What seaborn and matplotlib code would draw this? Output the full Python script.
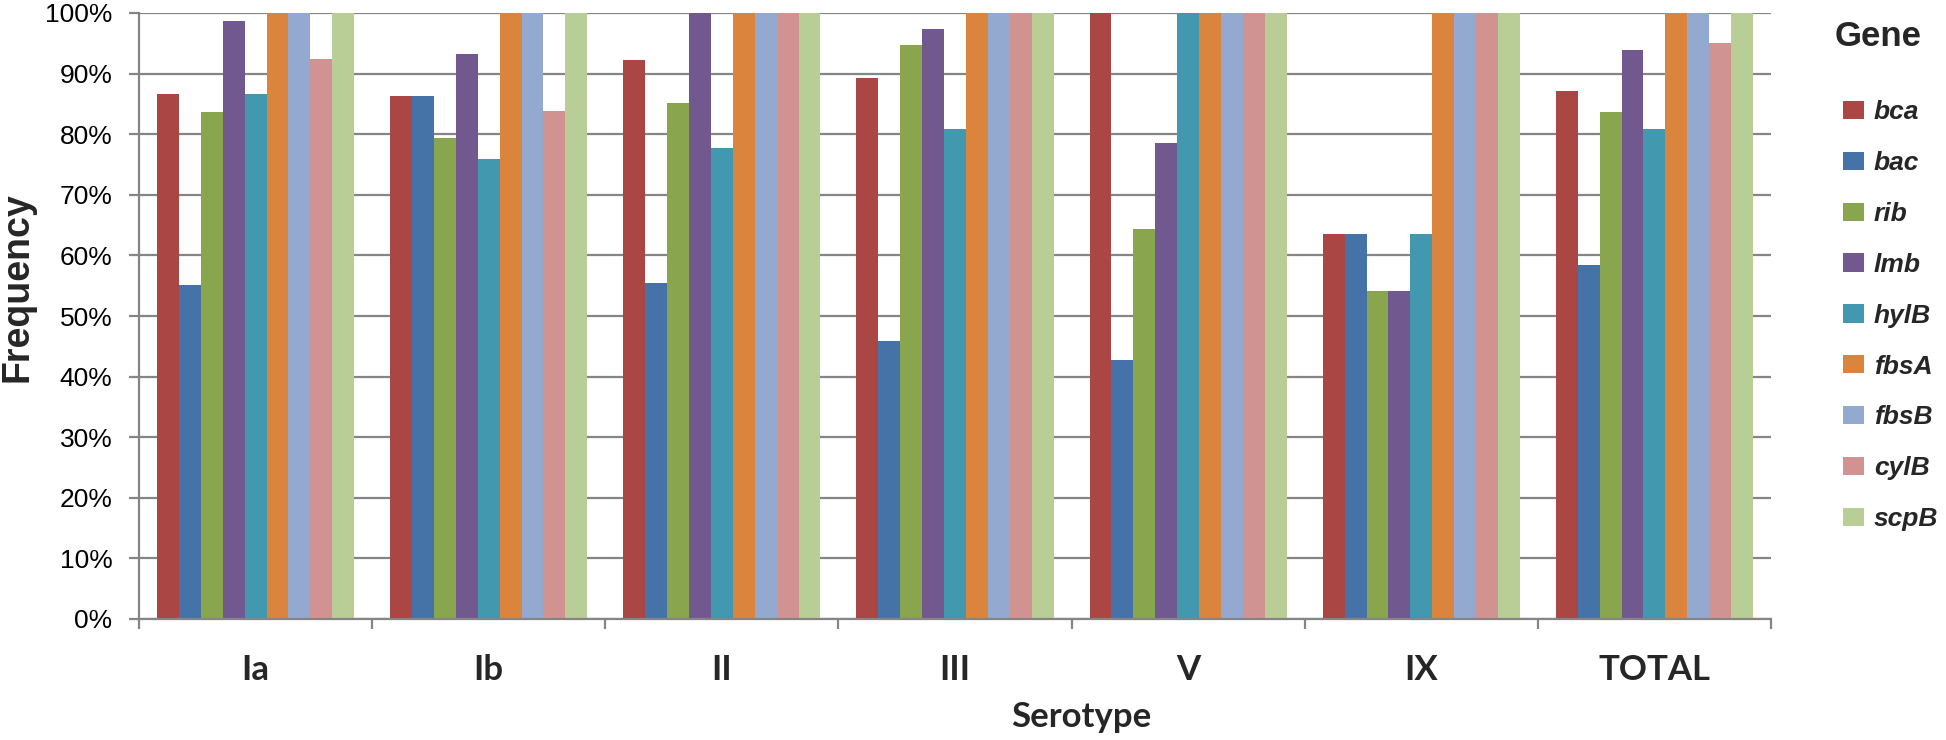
import matplotlib
matplotlib.use("Agg")
import matplotlib.pyplot as plt
import seaborn as sns
import pandas as pd
from matplotlib.ticker import PercentFormatter, FixedLocator
from matplotlib.font_manager import FontProperties

serotypes = ["Ia", "Ib", "II", "III", "V", "IX", "TOTAL"]
genes = ["bca", "bac", "rib", "lmb", "hylB", "fbsA", "fbsB", "cylB", "scpB"]

bca  = [86.6, 86.3, 92.3, 89.3, 100.0, 63.5, 87.2]
bac  = [55.1, 86.3, 55.4, 45.8, 42.7, 63.5, 58.4]
rib  = [83.6, 79.3, 85.1, 94.7, 64.3, 54.2, 83.6]
lmb  = [98.6, 93.2, 100.0, 97.4, 78.5, 54.2, 93.9]
hylB = [86.6, 75.9, 77.8, 80.9, 100.0, 63.5, 80.9]
fbsA = [100.0, 100.0, 100.0, 100.0, 100.0, 100.0, 100.0]
fbsB = [100.0, 100.0, 100.0, 100.0, 100.0, 100.0, 100.0]
cylB = [92.4, 83.9, 100.0, 100.0, 100.0, 100.0, 95.1]
scpB = [100.0, 100.0, 100.0, 100.0, 100.0, 100.0, 100.0]

series = [bca, bac, rib, lmb, hylB, fbsA, fbsB, cylB, scpB]
colors = ["#AA4643", "#4572A7", "#89A54E", "#71588F", "#4198AF",
          "#DB843D", "#93A9CF", "#D19392", "#B9CD96"]

rows = []
for g, vals in zip(genes, series):
    for s, v in zip(serotypes, vals):
        rows.append({"Serotype": s, "Gene": g, "Frequency": v})
df = pd.DataFrame(rows)

sns.set_theme(style="white")
plt.rcParams["font.family"] = ["Liberation Sans", "DejaVu Sans"]

W, H = 1946, 740
fig = plt.figure(figsize=(W / 100, H / 100), dpi=100)
x0, x1, ytop, ybot = 139, 1771, 13, 619
ax = fig.add_axes([x0 / W, 1 - ybot / H, (x1 - x0) / W, (ybot - ytop) / H])

sns.barplot(data=df, x="Serotype", y="Frequency", hue="Gene",
            order=serotypes, hue_order=genes, palette=colors,
            width=197 / 233, saturation=1, linewidth=0, errorbar=None, ax=ax)

handles, labels = ax.get_legend_handles_labels()
if ax.get_legend() is not None:
    ax.get_legend().remove()

grid_col = "#858585"
ax.set_ylim(0, 100)
ax.set_xlim(-0.5, len(serotypes) - 0.5)
ax.set_yticks(range(0, 101, 10))
ax.yaxis.set_major_formatter(PercentFormatter(100, decimals=0))
ax.grid(axis="y", color=grid_col, linewidth=1.6)
ax.grid(axis="x", visible=False)
ax.set_axisbelow(True)

for side in ["top", "right"]:
    ax.spines[side].set_visible(False)
for side in ["left", "bottom"]:
    ax.spines[side].set_color(grid_col)
    ax.spines[side].set_linewidth(1.6)

ax.tick_params(axis="y", which="major", direction="out", length=7, width=1.6,
               color=grid_col, left=True, pad=12, labelsize=19, labelcolor="black")
ax.tick_params(axis="x", which="major", length=0, pad=25, labelsize=25)
ax.xaxis.set_minor_locator(FixedLocator([i - 0.5 for i in range(len(serotypes) + 1)]))
ax.tick_params(axis="x", which="minor", direction="out", length=7, width=1.6,
               color=grid_col, bottom=True)
for lab in ax.get_xticklabels():
    lab.set_fontfamily("Lato")
    lab.set_fontweight("bold")

ax.set_xlabel("Serotype", fontsize=25, fontweight="bold", family="Lato")
ax.xaxis.set_label_coords((1081 - x0) / (x1 - x0), -(717 - ybot) / (ybot - ytop))
ax.xaxis.label.set_va("center")
ax.set_ylabel("Frequency", fontsize=27, fontweight="bold")
ax.yaxis.set_label_coords(-(x0 - 18) / (x1 - x0), (ybot - 287) / (ybot - ytop))
ax.yaxis.label.set_va("center")

fig.text(1835 / W, 1 - 36 / H, "Gene", ha="left", va="center",
         fontsize=25, fontweight="bold")

fs = 19
fpx = fs * 100 / 72
leg = fig.legend(handles, labels, loc="upper left",
                 bbox_to_anchor=(1843 / W, 1 - 100 / H),
                 frameon=False,
                 prop=FontProperties(family="Liberation Sans", weight="bold",
                                     style="italic", size=fs),
                 handlelength=21 / fpx, handleheight=18 / fpx,
                 handletextpad=10 / fpx, labelspacing=1.02,
                 borderaxespad=0, borderpad=0)

fig.savefig("out.png", dpi=100, facecolor="white")
